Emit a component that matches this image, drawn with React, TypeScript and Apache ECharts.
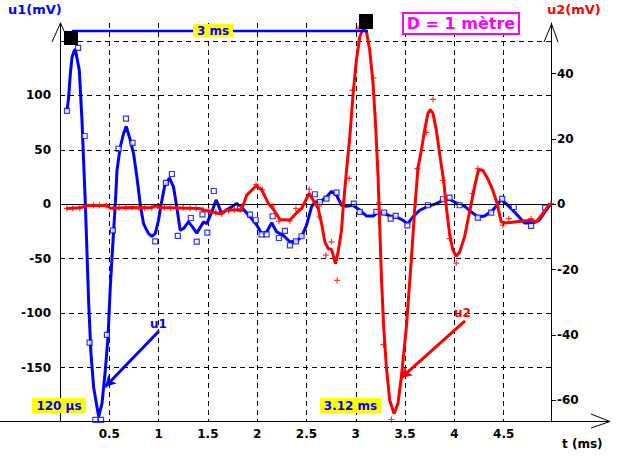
import React, { useEffect, useRef } from "react";
import * as echarts from "echarts";

// u1 (left axis, mV) smoothed trace: [t (ms), u1]
const u1Line: [number, number][] = [
  [0.071, 85.7], [0.088, 98.5], [0.105, 120], [0.122, 135], [0.146, 141.5], [0.156, 142],
  [0.196, 123], [0.223, 77], [0.257, 0.6], [0.274, -45], [0.291, -91], [0.314, -137],
  [0.341, -168], [0.375, -186], [0.392, -195], [0.426, -183], [0.46, -152], [0.487, -122],
  [0.51, -76], [0.544, -24], [0.561, 0], [0.578, 31], [0.611, 52.6], [0.645, 65],
  [0.672, 71.6], [0.713, 58.8], [0.746, 46.6], [0.78, 25], [0.814, 0], [0.847, -17.8],
  [0.898, -27], [0.932, -29.4], [0.966, -27], [0.999, -14.7], [1.026, 0], [1.06, 16],
  [1.11, 24.2], [1.151, 16], [1.185, -3], [1.219, -24], [1.252, -22.3], [1.303, -16.2],
  [1.345, -21], [1.387, -26.5], [1.455, -16.2], [1.489, -17.7], [1.54, -7], [1.583, 4],
  [1.64, -8.6], [1.698, -4.6], [1.742, -2.4], [1.792, 0.8], [1.86, -4.5], [1.927, -11.6],
  [1.995, -19], [2.045, -26.8], [2.096, -25.4], [2.147, -17], [2.197, -25.4], [2.264, -28.5],
  [2.332, -34.6], [2.4, -33.7], [2.45, -30], [2.5, -19.3], [2.551, -2.5], [2.585, 2.1],
  [2.636, 2.1], [2.703, 6.7], [2.754, 11.9], [2.805, 8.3], [2.855, -0.9], [2.906, -1.8],
  [2.973, -0.9], [3.04, -5.5], [3.108, -10.7], [3.175, -10.7], [3.226, -7.6], [3.294, -8.6],
  [3.344, -10.7], [3.412, -11.6], [3.479, -14.7], [3.525, -18], [3.58, -11.6], [3.648, -5.5],
  [3.732, -1.8], [3.817, 0.6], [3.884, 3.7], [3.951, 4.6], [4.019, 1.2], [4.103, -1.8],
  [4.171, -7], [4.238, -11.6], [4.306, -10.7], [4.39, -5.5], [4.475, 4.3], [4.542, -0.9],
  [4.626, -8.6], [4.711, -17.2], [4.795, -17.2], [4.862, -14.7], [4.93, -5.5], [4.974, 0],
];

// u1 raw samples (square markers)
const u1Samples: [number, number][] = [
  [0.071, 85.7], [0.183, 143.6], [0.25, 62.7], [0.3, -127], [0.358, -198], [0.416, -198],
  [0.476, -120], [0.537, -24], [0.594, 51], [0.669, 78.7], [0.736, 56.3], [0.966, -34],
  [1.074, 19.6], [1.135, 27.8], [1.195, -29], [1.327, -12.6], [1.387, -34.3], [1.445, -9.2],
  [1.495, -26], [1.56, 12.2], [1.826, -4], [1.927, -9.5], [1.985, -14.7], [2.045, -27.6],
  [2.096, -27.6], [2.157, -11], [2.22, -31], [2.281, -24.5], [2.332, -37.7], [2.393, -34],
  [2.45, -29.4], [2.585, 9.2], [2.636, 2.1], [2.703, 5.2], [2.805, 10.7], [2.98, 0.6],
  [3.04, -7], [3.209, -7], [3.287, -7.6], [3.354, -13.1], [3.405, -10.7], [3.523, -19.3],
  [3.732, -0.9], [3.884, 4.6], [3.951, 6.1], [4.053, -0.9], [4.238, -12.2], [4.373, -7.6],
  [4.485, 4.9], [4.602, -2.5], [4.778, -19.9], [4.92, -3],
];

// u2 (right axis, mV) smoothed trace
const u2Line: [number, number][] = [
  [0.065, -1.3], [0.2, -1.1], [0.274, -0.4], [0.477, -0.4], [0.51, -1.2], [0.713, -1.0],
  [0.915, -1.1], [0.966, -0.5], [1.016, -1.0], [1.421, -1.3], [1.455, -1.8], [1.623, -2.9],
  [1.69, -1.8], [1.843, -1.6], [1.894, 2.8], [1.927, 3.8], [1.988, 5.6], [2.045, 4.5],
  [2.113, 0.3], [2.163, -1.5], [2.231, -4.7], [2.332, -4.8], [2.4, -2.6], [2.45, -1.3],
  [2.5, 1.7], [2.527, 3.4], [2.568, 1.2], [2.619, -1.3], [2.653, -5.9], [2.686, -11.5],
  [2.72, -13.6], [2.754, -13.8], [2.794, -18.2], [2.821, -14.6], [2.855, -8], [2.87, -1.8],
  [2.906, 10.4], [2.939, 20.6], [2.973, 33.9], [3.006, 44.1], [3.04, 51.2], [3.074, 53.8],
  [3.108, 52.8], [3.141, 47.2], [3.175, 37], [3.202, 23.7], [3.226, 8.4], [3.243, -6.9],
  [3.26, -22.3], [3.283, -37.6], [3.31, -49.8], [3.344, -60], [3.388, -64.1], [3.428, -61],
  [3.462, -52.9], [3.513, -37.6], [3.563, -17.1], [3.597, -1.8], [3.631, 11.2], [3.665, 16.5],
  [3.698, 22.7], [3.732, 27.8], [3.756, 29], [3.783, 27.8], [3.817, 22.7], [3.85, 15.5],
  [3.891, 7.3], [3.918, -0.8], [3.951, -9], [3.985, -14.1], [4.019, -15.9], [4.053, -14.6],
  [4.103, -10], [4.137, -4.9], [4.171, 0.2], [4.204, 5.3], [4.245, 10.6], [4.288, 10.4],
  [4.339, 7.8], [4.39, 4.3], [4.434, 0.2], [4.475, -5.4], [4.525, -5.7], [4.694, -5.1],
  [4.778, -4.9], [4.829, -5.4], [4.896, -2.9], [4.97, 0.2],
];

// u2 raw samples (+ markers)
const u2Samples: [number, number][] = [
  [0.07, -1.3], [0.13, -1.3], [0.2, -1.2], [0.27, -0.5], [0.34, -0.4], [0.4, -0.4],
  [0.47, -0.4], [0.54, -1.2], [0.6, -1.1], [0.67, -1.1], [0.73, -0.8], [0.8, -1.2],
  [0.86, -1.2], [0.93, -1.1], [0.99, -0.5], [1.06, -1.0], [1.12, -1.2], [1.19, -1.2],
  [1.25, -1.1], [1.32, -1.2], [1.38, -1.2], [1.45, -1.5], [1.51, -1.8], [1.58, -2.5],
  [1.64, -2.9], [1.71, -1.9], [1.77, -1.7], [1.83, -1.6], [1.988, 6], [2.052, 4.5],
  [2.153, -0.6], [2.22, -5.2], [2.332, -5.2], [2.393, -1.3], [2.527, 4.6], [2.628, -0.6],
  [2.628, -3.9], [2.696, -15.6], [2.754, -11.5], [2.811, -23.3], [2.862, 0.4], [2.932, 7.9],
  [2.966, 34.9], [3.023, 53.8], [3.18, 38.7], [3.234, 0.4], [3.281, -43], [3.361, -65.9],
  [3.624, 10.9], [3.715, 22], [3.783, 32.1], [3.884, 7.3], [3.951, -10.5], [4.019, -18],
  [4.181, 3.3], [4.238, 10.9], [4.491, -6.4], [4.552, -4.4], [4.778, -4.4], [4.98, 0.2],
];

const leftGridValues = [150, 100, 50, -50, -100, -150];
const leftLabelValues = [100, 50, 0, -50, -100, -150];
const rightLabelValues = [40, 20, 0, -20, -40, -60];

// pointer arrows (data coords): [head, tail]
const u1Pointer: [number, number][] = [[0.456, -167.8], [1.004, -116.4]];
const u2Pointer: [number, number][] = [[3.458, -53.2], [4.108, -35.7]];

const BLUE = "#0000ff";
const RED = "#ff0000";
const MAGENTA = "#ff00ff";
const YELLOW = "#ffff00";
const FONT = "DejaVu Sans";

export default function App() {
  const ref = useRef<HTMLDivElement>(null);
  useEffect(() => {
    const chart = echarts.init(ref.current!, null, { renderer: "svg" });
    const plusPath = "path://M2,0H3V2H5V3H3V5H2V3H0V2H2Z";
    const txt = (text: string, x: number, y: number, fill: string, align = "left", size = 12, vAlign = "middle") => ({
      type: "text",
      z: 20,
      style: {
        text, x, y, fill,
        font: `bold ${size}px "${FONT}"`,
        align, verticalAlign: vAlign,
      },
    });
    chart.setOption({
      animation: false,
      backgroundColor: "#ffffff",
      grid: { left: 60, right: 87, top: 23, bottom: 42 },
      xAxis: {
        type: "value",
        min: 0,
        max: 4.98,
        interval: 0.5,
        axisLine: { show: false },
        axisTick: { show: false },
        axisLabel: {
          showMinLabel: false,
          showMaxLabel: false,
          margin: 6,
          color: "#000",
          fontFamily: FONT,
          fontWeight: "bold",
          fontSize: 12,
          formatter: (v: number) => String(v),
        },
        splitLine: { show: true, lineStyle: { color: "#000", width: 1, type: [5, 4] } },
      },
      yAxis: [
        {
          type: "value",
          min: -200,
          max: 166.5,
          interval: 50,
          position: "left",
          axisLine: { show: true, onZero: false, lineStyle: { color: "#000", width: 1 } },
          axisTick: { show: false },
          axisLabel: {
            margin: 9,
            color: "#000",
            fontFamily: FONT,
            fontWeight: "bold",
            fontSize: 12,
            formatter: (v: number) => (leftLabelValues.includes(Math.round(v)) && Math.abs(v - Math.round(v)) < 1e-6 ? String(Math.round(v)) : ""),
          },
          splitLine: { show: false },
        },
        {
          type: "value",
          min: -66.667,
          max: 55.5,
          position: "right",
          axisLine: { show: true, onZero: false, lineStyle: { color: "#000", width: 1 } },
          axisTick: { show: true, length: 5, customValues: rightLabelValues, lineStyle: { color: "#000" } },
          axisLabel: {
            customValues: rightLabelValues,
            margin: 6,
            color: "#000",
            fontFamily: FONT,
            fontWeight: "bold",
            fontSize: 12,
            formatter: (v: number) => String(Math.round(v)),
          },
          splitLine: { show: false },
        },
      ],
      series: [
        {
          type: "line",
          data: [],
          yAxisIndex: 0,
          silent: true,
          z: 1,
          markLine: {
            silent: true,
            symbol: "none",
            label: { show: false },
            data: [
              ...leftGridValues.map((v) => ({ yAxis: v, lineStyle: { type: [5, 4], color: "#000", width: 1 } })),
              { yAxis: 0, lineStyle: { type: "solid", color: "#000", width: 1 } },
            ],
          },
        },
        {
          type: "line",
          name: "u1",
          data: u1Line,
          yAxisIndex: 0,
          showSymbol: false,
          clip: false,
          z: 3,
          lineStyle: { color: BLUE, width: 3 },
          itemStyle: { color: BLUE },
          markLine: {
            silent: true,
            symbol: ["arrow", "none"],
            symbolSize: [9, 11],
            label: { show: false },
            lineStyle: { color: BLUE, width: 3, type: "solid" },
            data: [[{ coord: u1Pointer[0] }, { coord: u1Pointer[1] }]],
          },
        },
        {
          type: "scatter",
          name: "u1 samples",
          data: u1Samples,
          yAxisIndex: 0,
          symbol: "rect",
          symbolSize: 5,
          z: 4,
          itemStyle: { color: "#ffffff", borderColor: BLUE, borderWidth: 1.2 },
        },
        {
          type: "line",
          name: "u2",
          data: u2Line,
          yAxisIndex: 1,
          showSymbol: false,
          clip: false,
          z: 5,
          lineStyle: { color: RED, width: 3 },
          itemStyle: { color: RED },
          markLine: {
            silent: true,
            symbol: ["arrow", "none"],
            symbolSize: [9, 11],
            label: { show: false },
            lineStyle: { color: RED, width: 3, type: "solid" },
            data: [[{ coord: u2Pointer[0] }, { coord: u2Pointer[1] }]],
          },
        },
        {
          type: "scatter",
          name: "u2 samples",
          data: u2Samples,
          yAxisIndex: 1,
          symbol: plusPath,
          symbolSize: 6,
          z: 6,
          itemStyle: { color: RED },
        },
      ],
      graphic: [
        // x axis line with open arrow
        { type: "line", z: 10, shape: { x1: 0, y1: 421.5, x2: 610, y2: 421.5 }, style: { stroke: "#000", lineWidth: 1 } },
        { type: "polyline", z: 10, shape: { points: [[591, 414], [610, 421.5], [591, 428]] }, style: { stroke: "#000", lineWidth: 1, fill: "none" } },
        // y axis arrows
        { type: "polyline", z: 10, shape: { points: [[52, 42], [60.5, 23], [69, 42]] }, style: { stroke: "#000", lineWidth: 1, fill: "none" } },
        { type: "polyline", z: 10, shape: { points: [[544, 42], [551.5, 24], [558, 42]] }, style: { stroke: "#000", lineWidth: 1, fill: "none" } },
        // measurement line & cursors
        { type: "line", z: 11, shape: { x1: 72, y1: 31, x2: 368, y2: 31 }, style: { stroke: BLUE, lineWidth: 2.5 } },
        { type: "rect", z: 12, shape: { x: 64, y: 31, width: 14, height: 14 }, style: { fill: "#000" } },
        { type: "rect", z: 12, shape: { x: 359, y: 14, width: 14, height: 15 }, style: { fill: "#000" } },
        // yellow labels
        { type: "rect", z: 13, shape: { x: 193, y: 24, width: 40, height: 13 }, style: { fill: YELLOW } },
        txt("3 ms", 213, 31, BLUE, "center"),
        { type: "rect", z: 13, shape: { x: 32, y: 398, width: 54, height: 15 }, style: { fill: YELLOW } },
        txt("120 µs", 59, 405.5, BLUE, "center"),
        { type: "rect", z: 13, shape: { x: 320, y: 398, width: 61, height: 15 }, style: { fill: YELLOW } },
        txt("3.12 ms", 350.5, 405.5, BLUE, "center"),
        // D box
        { type: "rect", z: 13, shape: { x: 403, y: 13, width: 116, height: 21 }, style: { fill: "#fff", stroke: MAGENTA, lineWidth: 2 } },
        txt("D = 1 mètre", 461, 23.5, MAGENTA, "center", 16),
        // titles
        txt("u1(mV)", 8, 9, BLUE, "left", 13),
        txt("u2(mV)", 547, 9, RED, "left", 13),
        txt("t (ms)", 562, 444, "#000"),
        txt("u1", 150, 324, BLUE),
        txt("u2", 454, 313, RED),
      ],
    });
    return () => chart.dispose();
  }, []);
  return <div ref={ref} style={{ width: 638, height: 464, position: "absolute", left: 0, top: 0 }} />;
}
